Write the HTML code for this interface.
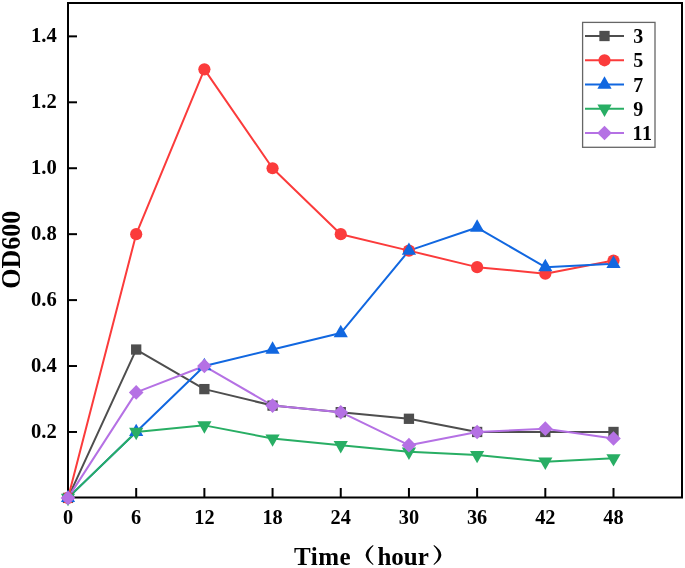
<!DOCTYPE html>
<html><head><meta charset="utf-8"><style>
html,body{margin:0;padding:0;background:#fff;}
svg{display:block;will-change:transform;}
.tl{font-family:"Liberation Serif",serif;font-weight:bold;font-size:20px;fill:#000;}
.tt{font-family:"Liberation Serif",serif;font-weight:bold;font-size:25px;fill:#000;}
</style></head><body>
<svg width="685" height="568" viewBox="0 0 685 568">
<rect x="68" y="3" width="614" height="494.5" fill="none" stroke="#000" stroke-width="2"/>
<line x1="136.19" y1="497" x2="136.19" y2="488" stroke="#000" stroke-width="2"/>
<line x1="204.38" y1="497" x2="204.38" y2="488" stroke="#000" stroke-width="2"/>
<line x1="272.56" y1="497" x2="272.56" y2="488" stroke="#000" stroke-width="2"/>
<line x1="340.75" y1="497" x2="340.75" y2="488" stroke="#000" stroke-width="2"/>
<line x1="408.94" y1="497" x2="408.94" y2="488" stroke="#000" stroke-width="2"/>
<line x1="477.12" y1="497" x2="477.12" y2="488" stroke="#000" stroke-width="2"/>
<line x1="545.31" y1="497" x2="545.31" y2="488" stroke="#000" stroke-width="2"/>
<line x1="613.50" y1="497" x2="613.50" y2="488" stroke="#000" stroke-width="2"/>
<line x1="68" y1="431.97" x2="77" y2="431.97" stroke="#000" stroke-width="2"/>
<line x1="68" y1="366.03" x2="77" y2="366.03" stroke="#000" stroke-width="2"/>
<line x1="68" y1="300.10" x2="77" y2="300.10" stroke="#000" stroke-width="2"/>
<line x1="68" y1="234.16" x2="77" y2="234.16" stroke="#000" stroke-width="2"/>
<line x1="68" y1="168.23" x2="77" y2="168.23" stroke="#000" stroke-width="2"/>
<line x1="68" y1="102.30" x2="77" y2="102.30" stroke="#000" stroke-width="2"/>
<line x1="68" y1="36.36" x2="77" y2="36.36" stroke="#000" stroke-width="2"/>
<polyline points="68.00,497.90 136.19,349.55 204.38,389.11 272.56,405.59 340.75,412.19 408.94,418.78 477.12,431.97 545.31,431.97 613.50,431.97" fill="none" stroke="#4E4E4E" stroke-width="2" stroke-linejoin="round"/>
<polyline points="68.00,497.90 136.19,234.16 204.38,69.33 272.56,168.23 340.75,234.16 408.94,250.65 477.12,267.13 545.31,273.72 613.50,260.54" fill="none" stroke="#FB3B3B" stroke-width="2" stroke-linejoin="round"/>
<polyline points="68.00,497.90 136.19,431.97 204.38,366.03 272.56,349.55 340.75,333.06 408.94,250.65 477.12,227.57 545.31,267.13 613.50,263.83" fill="none" stroke="#1167E0" stroke-width="2" stroke-linejoin="round"/>
<polyline points="68.00,497.90 136.19,431.97 204.38,425.37 272.56,438.56 340.75,445.15 408.94,451.75 477.12,455.04 545.31,461.64 613.50,458.34" fill="none" stroke="#28AE64" stroke-width="2" stroke-linejoin="round"/>
<polyline points="68.00,497.90 136.19,392.41 204.38,366.03 272.56,405.59 340.75,412.19 408.94,445.15 477.12,431.97 545.31,428.67 613.50,438.56" fill="none" stroke="#B571E4" stroke-width="2" stroke-linejoin="round"/>
<rect x="62.85" y="492.75" width="10.3" height="10.3" fill="#4E4E4E"/>
<rect x="131.04" y="344.40" width="10.3" height="10.3" fill="#4E4E4E"/>
<rect x="199.22" y="383.96" width="10.3" height="10.3" fill="#4E4E4E"/>
<rect x="267.41" y="400.44" width="10.3" height="10.3" fill="#4E4E4E"/>
<rect x="335.60" y="407.04" width="10.3" height="10.3" fill="#4E4E4E"/>
<rect x="403.79" y="413.63" width="10.3" height="10.3" fill="#4E4E4E"/>
<rect x="471.98" y="426.82" width="10.3" height="10.3" fill="#4E4E4E"/>
<rect x="540.16" y="426.82" width="10.3" height="10.3" fill="#4E4E4E"/>
<rect x="608.35" y="426.82" width="10.3" height="10.3" fill="#4E4E4E"/>
<circle cx="68.00" cy="497.90" r="6.1" fill="#FB3B3B"/>
<circle cx="136.19" cy="234.16" r="6.1" fill="#FB3B3B"/>
<circle cx="204.38" cy="69.33" r="6.1" fill="#FB3B3B"/>
<circle cx="272.56" cy="168.23" r="6.1" fill="#FB3B3B"/>
<circle cx="340.75" cy="234.16" r="6.1" fill="#FB3B3B"/>
<circle cx="408.94" cy="250.65" r="6.1" fill="#FB3B3B"/>
<circle cx="477.12" cy="267.13" r="6.1" fill="#FB3B3B"/>
<circle cx="545.31" cy="273.72" r="6.1" fill="#FB3B3B"/>
<circle cx="613.50" cy="260.54" r="6.1" fill="#FB3B3B"/>
<path d="M68.00,489.63 L75.10,502.03 L60.90,502.03Z" fill="#1167E0"/>
<path d="M136.19,423.70 L143.29,436.10 L129.09,436.10Z" fill="#1167E0"/>
<path d="M204.38,357.77 L211.47,370.17 L197.28,370.17Z" fill="#1167E0"/>
<path d="M272.56,341.28 L279.66,353.68 L265.46,353.68Z" fill="#1167E0"/>
<path d="M340.75,324.80 L347.85,337.20 L333.65,337.20Z" fill="#1167E0"/>
<path d="M408.94,242.38 L416.04,254.78 L401.84,254.78Z" fill="#1167E0"/>
<path d="M477.12,219.30 L484.23,231.70 L470.02,231.70Z" fill="#1167E0"/>
<path d="M545.31,258.86 L552.41,271.26 L538.21,271.26Z" fill="#1167E0"/>
<path d="M613.50,255.57 L620.60,267.97 L606.40,267.97Z" fill="#1167E0"/>
<path d="M68.00,506.17 L75.10,493.77 L60.90,493.77Z" fill="#28AE64"/>
<path d="M136.19,440.23 L143.29,427.83 L129.09,427.83Z" fill="#28AE64"/>
<path d="M204.38,433.64 L211.47,421.24 L197.28,421.24Z" fill="#28AE64"/>
<path d="M272.56,446.83 L279.66,434.43 L265.46,434.43Z" fill="#28AE64"/>
<path d="M340.75,453.42 L347.85,441.02 L333.65,441.02Z" fill="#28AE64"/>
<path d="M408.94,460.01 L416.04,447.61 L401.84,447.61Z" fill="#28AE64"/>
<path d="M477.12,463.31 L484.23,450.91 L470.02,450.91Z" fill="#28AE64"/>
<path d="M545.31,469.90 L552.41,457.50 L538.21,457.50Z" fill="#28AE64"/>
<path d="M613.50,466.61 L620.60,454.21 L606.40,454.21Z" fill="#28AE64"/>
<path d="M68.00,490.60 L75.30,497.90 L68.00,505.20 L60.70,497.90Z" fill="#B571E4"/>
<path d="M136.19,385.11 L143.49,392.41 L136.19,399.71 L128.89,392.41Z" fill="#B571E4"/>
<path d="M204.38,358.73 L211.68,366.03 L204.38,373.33 L197.07,366.03Z" fill="#B571E4"/>
<path d="M272.56,398.29 L279.86,405.59 L272.56,412.89 L265.26,405.59Z" fill="#B571E4"/>
<path d="M340.75,404.89 L348.05,412.19 L340.75,419.49 L333.45,412.19Z" fill="#B571E4"/>
<path d="M408.94,437.85 L416.24,445.15 L408.94,452.45 L401.64,445.15Z" fill="#B571E4"/>
<path d="M477.12,424.67 L484.43,431.97 L477.12,439.27 L469.82,431.97Z" fill="#B571E4"/>
<path d="M545.31,421.37 L552.61,428.67 L545.31,435.97 L538.01,428.67Z" fill="#B571E4"/>
<path d="M613.50,431.26 L620.80,438.56 L613.50,445.86 L606.20,438.56Z" fill="#B571E4"/>
<rect x="582.6" y="22.4" width="72.4" height="124.9" fill="#fff" stroke="#666" stroke-width="1.3"/>
<line x1="585" y1="36" x2="624" y2="36" stroke="#4E4E4E" stroke-width="2"/>
<rect x="599.35" y="30.85" width="10.3" height="10.3" fill="#4E4E4E"/>
<line x1="585" y1="60.3" x2="624" y2="60.3" stroke="#FB3B3B" stroke-width="2"/>
<circle cx="604.50" cy="60.30" r="6.1" fill="#FB3B3B"/>
<line x1="585" y1="84.5" x2="624" y2="84.5" stroke="#1167E0" stroke-width="2"/>
<path d="M604.50,76.23 L611.60,88.63 L597.40,88.63Z" fill="#1167E0"/>
<line x1="585" y1="108.7" x2="624" y2="108.7" stroke="#28AE64" stroke-width="2"/>
<path d="M604.50,116.97 L611.60,104.57 L597.40,104.57Z" fill="#28AE64"/>
<line x1="585" y1="133" x2="624" y2="133" stroke="#B571E4" stroke-width="2"/>
<path d="M604.50,125.70 L611.80,133.00 L604.50,140.30 L597.20,133.00Z" fill="#B571E4"/>
<text x="633.3" y="43" class="tl" style="letter-spacing:0px">3</text>
<text x="633.3" y="67.3" class="tl" style="letter-spacing:0px">5</text>
<text x="633.3" y="91.5" class="tl" style="letter-spacing:0px">7</text>
<text x="633.3" y="115.7" class="tl" style="letter-spacing:0px">9</text>
<text x="632.4" y="140" class="tl" style="letter-spacing:0.8px">11</text>
<text x="68.00" y="524" text-anchor="middle" class="tl" style="font-size:20.3px">0</text>
<text x="136.19" y="524" text-anchor="middle" class="tl" style="font-size:20.3px">6</text>
<text x="204.38" y="524" text-anchor="middle" class="tl" style="font-size:20.3px">12</text>
<text x="272.56" y="524" text-anchor="middle" class="tl" style="font-size:20.3px">18</text>
<text x="340.75" y="524" text-anchor="middle" class="tl" style="font-size:20.3px">24</text>
<text x="408.94" y="524" text-anchor="middle" class="tl" style="font-size:20.3px">30</text>
<text x="477.12" y="524" text-anchor="middle" class="tl" style="font-size:20.3px">36</text>
<text x="545.31" y="524" text-anchor="middle" class="tl" style="font-size:20.3px">42</text>
<text x="613.50" y="524" text-anchor="middle" class="tl" style="font-size:20.3px">48</text>
<text x="56.8" y="437.87" text-anchor="end" class="tl" style="font-size:20.6px">0.2</text>
<text x="56.8" y="371.93" text-anchor="end" class="tl" style="font-size:20.6px">0.4</text>
<text x="56.8" y="306.00" text-anchor="end" class="tl" style="font-size:20.6px">0.6</text>
<text x="56.8" y="240.06" text-anchor="end" class="tl" style="font-size:20.6px">0.8</text>
<text x="56.8" y="174.13" text-anchor="end" class="tl" style="font-size:20.6px">1.0</text>
<text x="56.8" y="108.20" text-anchor="end" class="tl" style="font-size:20.6px">1.2</text>
<text x="56.8" y="42.26" text-anchor="end" class="tl" style="font-size:20.6px">1.4</text>
<text x="294" y="564.5" class="tt" style="letter-spacing:0.5px">Time</text>
<path d="M373,545.1 Q358.3,555 373,564.9 L373.5,564.3 Q363.6,555 373.5,545.7Z" fill="#000"/>
<text x="377.4" y="564.5" class="tt">hour</text>
<path d="M434,545.1 Q448.7,555 434,564.9 L433.5,564.3 Q443.4,555 433.5,545.7Z" fill="#000"/>
<text transform="translate(20.1,249.8) rotate(-90) scale(1,1.04)" text-anchor="middle" class="tt" style="font-size:26px">OD600</text>
</svg>
</body></html>
